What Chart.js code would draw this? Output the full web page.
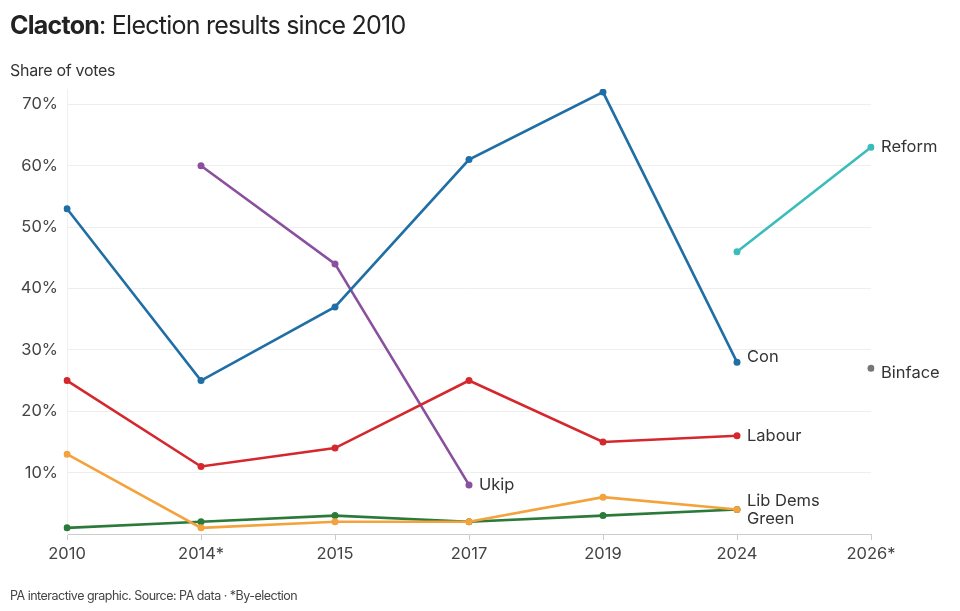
<!DOCTYPE html>
<html>
<head>
<meta charset="utf-8">
<script src="https://cdn.jsdelivr.net/npm/chart.js@4.4.1/dist/chart.umd.min.js"></script>
<style>
    body { margin: 0; background: #fff; font-family: Inter, "Noto Sans", sans-serif; color: #333; }
    #wrap { position: relative; width: 960px; height: 611px; overflow: hidden; }
    #title { position: absolute; left: 10px; top: 10px; font-size: 25px; letter-spacing: -0.75px; color: #222; }
    #title b { font-weight: 700; }
    #subtitle { position: absolute; left: 10px; top: 60px; font-size: 16px; letter-spacing: -0.3px; color: #333; }
    #footer { position: absolute; left: 10px; top: 588px; font-size: 12.5px; letter-spacing: -0.5px; color: #444; }
    #chartBox { position: absolute; left: 0; top: 0; width: 960px; height: 611px; }
</style>
</head>
<body>
<div id="wrap">
    <div id="chartBox"><canvas id="resultsChart"></canvas></div>
    <div id="title"><b>Clacton</b>: Election results since 2010</div>
    <div id="subtitle">Share of votes</div>
    <div id="footer">PA interactive graphic. Source: PA data · *By-election</div>
</div>
<script>
const elections = ["2010", "2014*", "2015", "2017", "2019", "2024", "2026*"];

const conVotes = [53, 25, 37, 61, 72, 28, null];
const labourVotes = [25, 11, 14, 25, 15, 16, null];
const ukipVotes = [null, 60, 44, 8, null, null, null];
const libDemVotes = [13, 1, 2, 2, 6, 4, null];
const greenVotes = [1, 2, 3, 2, 3, 4, null];
const reformVotes = [null, null, null, null, null, 46, 63];
const binfaceVotes = [null, null, null, null, null, null, 27];

const partyNames = ["Con", "Labour", "Ukip", "Lib Dems", "Green", "Reform", "Binface"];
const yTicks = [10, 20, 30, 40, 50, 60, 70];

// label nudges next to the last point of each line
const labelOffsets = {
    "Con": { dx: 10, dy: -5 },
    "Labour": { dx: 10, dy: 0 },
    "Ukip": { dx: 10, dy: 0 },
    "Lib Dems": { dx: 10, dy: -8 },
    "Green": { dx: 10, dy: 10 },
    "Reform": { dx: 10, dy: 0 },
    "Binface": { dx: 10, dy: 5 }
};

const endLabels = {
    id: "endLabels",
    afterDatasetsDraw(chart) {
        const ctx = chart.ctx;
        ctx.save();
        ctx.font = "16.5px Inter, 'Noto Sans', sans-serif";
        ctx.fillStyle = "#333";
        ctx.textBaseline = "middle";
        ctx.textAlign = "left";
        chart.data.datasets.forEach((ds, i) => {
            const meta = chart.getDatasetMeta(i);
            let last = -1;
            ds.data.forEach((v, j) => { if (v !== null) last = j; });
            if (last < 0) return;
            const pt = meta.data[last];
            const off = labelOffsets[ds.label] || { dx: 10, dy: 0 };
            ctx.fillText(ds.label, pt.x + off.dx, pt.y + off.dy);
        });
        ctx.restore();
    }
};

function makeSet(label, data, color) {
    return {
        label: label,
        data: data,
        borderColor: color,
        backgroundColor: color,
        borderWidth: 2.6,
        pointRadius: 3.5,
        pointHoverRadius: 3.5,
        pointBorderWidth: 0,
        tension: 0,
        spanGaps: false
    };
}

const ctx = document.getElementById("resultsChart").getContext("2d");

new Chart(ctx, {
    type: "line",
    data: {
        labels: elections,
        datasets: [
            makeSet(partyNames[0], conVotes, "#1f6fa6"),
            makeSet(partyNames[1], labourVotes, "#d4282e"),
            makeSet(partyNames[2], ukipVotes, "#8a4f9e"),
            makeSet(partyNames[3], libDemVotes, "#f4a23c"),
            makeSet(partyNames[4], greenVotes, "#2b7a3a"),
            makeSet(partyNames[5], reformVotes, "#3bbcbc"),
            makeSet(partyNames[6], binfaceVotes, "#777777")
        ]
    },
    options: {
        responsive: true,
        maintainAspectRatio: false,
        animation: false,
        layout: { padding: { left: 0, right: 89, top: 89, bottom: 37 } },
        plugins: {
            legend: { display: false },
            tooltip: { enabled: false }
        },
        scales: {
            x: {
                type: "category",
                offset: false,
                afterFit: scale => { scale.height = 40; },
                grid: {
                    display: true,
                    drawOnChartArea: false,
                    drawTicks: true,
                    tickLength: 6,
                    color: "#ccc"
                },
                border: { display: true, color: "#ccc" },
                ticks: {
                    color: "#444",
                    padding: 4,
                    maxRotation: 0,
                    font: { family: "Inter", size: 16.5 }
                }
            },
            y: {
                min: 0,
                max: 72.5,
                afterFit: scale => { scale.width = 67; },
                afterBuildTicks: scale => {
                    scale.ticks = yTicks.map(v => ({ value: v }));
                },
                grid: {
                    color: "#eeeeee",
                    drawTicks: false
                },
                border: { display: true, color: "#f0f0f0" },
                ticks: {
                    color: "#444",
                    padding: 9,
                    font: { family: "Inter", size: 16.5 },
                    callback: v => v + "%"
                }
            }
        }
    },
    plugins: [endLabels]
});
</script>
</body>
</html>
